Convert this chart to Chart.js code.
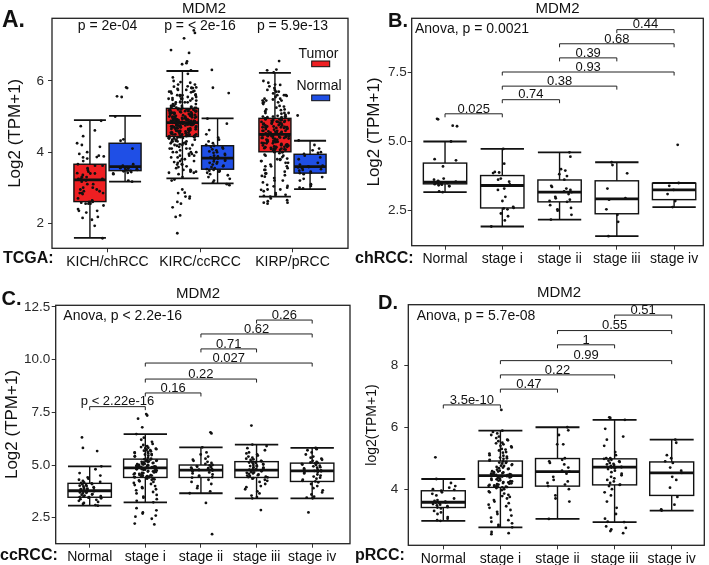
<!DOCTYPE html>
<html><head><meta charset="utf-8">
<script src="https://cdn.jsdelivr.net/npm/chart.js@4.4.1/dist/chart.umd.min.js"></script>
<style>
html,body{margin:0;padding:0;background:#fff;width:709px;height:565px;overflow:hidden;position:relative}
canvas{position:absolute;display:block}
</style></head>
<body>
<canvas id="cA" width="355" height="282" style="left:0;top:0"></canvas>
<canvas id="cB" width="354" height="282" style="left:355px;top:0"></canvas>
<canvas id="cC" width="355" height="283" style="left:0;top:282px"></canvas>
<canvas id="cD" width="354" height="283" style="left:355px;top:282px"></canvas>
<script>
// ================= DATA =================
const stageCategories = ['Normal', 'stage i', 'stage ii', 'stage iii', 'stage iv'];

// ---- Panel B: chRCC (KICH) by stage ----
const chNormal = [5.82, 5.80, 5.57, 5.55, 5.00, 4.36, 4.32, 4.10, 3.66, 3.62, 3.58, 3.55, 3.54, 3.53, 3.52, 3.50, 3.49, 3.47, 3.46, 3.44, 3.42, 3.40, 3.38, 3.20, 3.17];
const chStage1 = [4.73, 4.20, 3.90, 3.88, 3.86, 3.66, 3.62, 3.55, 3.45, 3.41, 3.30, 3.25, 3.00, 2.85, 2.64, 2.60, 2.58, 2.55, 2.40, 2.30, 2.15, 1.93];
const chStage2 = [4.61, 4.45, 4.00, 3.95, 3.82, 3.75, 3.62, 3.40, 3.36, 3.30, 3.25, 3.20, 3.17, 3.10, 3.00, 2.95, 2.90, 2.85, 2.82, 2.70, 2.60, 2.55, 2.50, 2.35, 2.18];
const chStage3 = [4.25, 4.15, 3.85, 3.30, 2.95, 2.90, 2.55, 2.35, 2.10, 1.58];
const chStage4 = [4.88, 3.50, 3.40, 3.25, 3.10, 2.85, 2.63];
// box stats: [lower whisker, Q1, median, Q3, upper whisker]
const chBoxes = [[3.17, 3.47, 3.53, 4.22, 5.00], [1.93, 2.60, 3.41, 3.77, 4.73], [2.18, 2.82, 3.17, 3.61, 4.61], [1.58, 2.39, 2.93, 3.58, 4.25], [2.63, 2.90, 3.25, 3.49, 3.50]];
const chBrackets = [[1, 2, 6.00, '0.025'], [2, 3, 6.51, '0.74'], [2, 4, 7.00, '0.38'], [2, 5, 7.51, '0.93'], [3, 4, 8.02, '0.39'], [3, 5, 8.53, '0.68'], [4, 5, 9.04, '0.44']];
const chAnova = 'Anova, p = 0.0021';
const chTicks = [2.5, 5.0, 7.5];

// ---- Panel C: ccRCC (KIRC) by stage ----
const ccNormal = [6.31, 5.81, 5.66, 4.94, 4.80, 4.62, 4.50, 4.41, 4.35, 4.30, 4.25, 4.20, 4.18, 4.15, 4.13, 4.10, 4.08, 4.05, 4.02, 4.00, 3.98, 3.95, 3.92, 3.90, 3.88, 3.85, 3.82, 3.80, 3.78, 3.76, 3.74, 3.72, 3.70, 3.68, 3.65, 3.62, 3.60, 3.58, 3.55, 3.52, 3.50, 3.48, 3.47, 3.45, 3.42, 3.38, 3.35, 3.30, 3.25, 3.20, 3.15, 3.10, 3.07];
const ccStage1 = [7.42, 7.35, 7.20, 6.79, 6.47, 6.30, 6.20, 6.10, 6.00, 5.95, 5.90, 5.85, 5.82, 5.80, 5.78, 5.75, 5.72, 5.70, 5.68, 5.65, 5.62, 5.60, 5.57, 5.55, 5.52, 5.50, 5.47, 5.45, 5.42, 5.40, 5.35, 5.30,
  5.27, 5.26, 5.24, 5.22, 5.20, 5.19, 5.17, 5.15, 5.14, 5.12, 5.10, 5.09, 5.07, 5.05, 5.04, 5.02, 5.00, 4.99, 4.97, 4.96, 4.95, 4.94, 4.93, 4.92, 4.91, 4.90, 4.90, 4.89, 4.88, 4.88, 4.87, 4.86,
  4.85, 4.84, 4.83, 4.82, 4.81, 4.80, 4.78, 4.77, 4.75, 4.74, 4.72, 4.70, 4.69, 4.67, 4.65, 4.63, 4.62, 4.60, 4.58, 4.56, 4.55, 4.53, 4.52, 4.50, 4.49, 4.47, 4.46, 4.45, 4.44, 4.43, 4.42, 4.41,
  4.38, 4.35, 4.32, 4.30, 4.27, 4.23, 4.20, 4.15, 4.10, 4.05, 4.00, 3.95, 3.90, 3.85, 3.80, 3.72, 3.65, 3.58, 3.50, 3.45, 3.38, 3.30, 3.23, 2.95, 2.85, 2.75, 2.70, 2.60, 2.55, 2.45, 2.22, 2.18];
const ccStage2 = [6.55, 6.50, 5.84, 5.60, 5.50, 5.40, 5.30, 5.25, 5.20, 5.15, 5.10, 5.05, 5.00, 4.98, 4.95, 4.92, 4.90, 4.88, 4.85, 4.82, 4.80, 4.78, 4.76, 4.74, 4.70, 4.65, 4.60, 4.55, 4.50, 4.45, 4.42, 4.40, 4.30, 4.20, 4.10, 4.00, 3.90, 3.75, 3.66, 3.20, 1.72];
const ccStage3 = [6.87, 5.97, 5.90, 5.80, 5.70, 5.60, 5.55, 5.50, 5.45, 5.40, 5.35, 5.30, 5.27, 5.24, 5.20, 5.18, 5.16, 5.14, 5.12, 5.10, 5.08, 5.05, 5.02, 5.00, 4.98, 4.95, 4.93, 4.90, 4.88, 4.85, 4.83, 4.80, 4.78, 4.76, 4.75, 4.73, 4.70, 4.68, 4.65, 4.63, 4.60, 4.58, 4.55, 4.52, 4.50, 4.48, 4.45, 4.43, 4.41, 4.38, 4.35, 4.30, 4.25, 4.20, 4.10, 4.00, 3.95, 3.85, 3.75, 3.65, 3.55, 3.48, 3.42, 2.86];
const ccStage4 = [5.81, 5.75, 5.70, 5.60, 5.50, 5.40, 5.35, 5.30, 5.25, 5.20, 5.15, 5.12, 5.10, 5.08, 5.05, 5.02, 5.00, 4.97, 4.94, 4.90, 4.87, 4.84, 4.80, 4.78, 4.75, 4.72, 4.70, 4.67, 4.64, 4.60, 4.55, 4.50, 4.45, 4.40, 4.35, 4.30, 4.25, 4.22, 4.18, 4.10, 4.00, 3.90, 3.80, 3.70, 3.60, 3.50, 3.45, 3.42, 2.75];
const ccBoxes = [[3.07, 3.47, 3.78, 4.13, 4.94], [3.23, 4.41, 4.86, 5.28, 6.47], [3.66, 4.41, 4.76, 5.00, 5.84], [3.42, 4.41, 4.76, 5.16, 5.97], [3.42, 4.22, 4.72, 5.09, 5.81]];
const ccBrackets = [[1, 2, 7.77, 'p < 2.22e-16'], [2, 3, 8.42, '0.16'], [2, 4, 9.08, '0.22'], [2, 5, 9.84, '0.027'], [3, 4, 10.51, '0.71'], [3, 5, 11.22, '0.62'], [4, 5, 11.88, '0.26']];
const ccAnova = 'Anova, p < 2.2e-16';
const ccTicks = [2.5, 5.0, 7.5, 10.0, 12.5];

// ---- Panel D: pRCC (KIRP) by stage ----
const pNormal = [5.03, 4.33, 4.20, 4.10, 4.05, 4.00, 3.98, 3.95, 3.90, 3.85, 3.80, 3.70, 3.65, 3.62, 3.60, 3.58, 3.57, 3.55, 3.52, 3.50, 3.48, 3.45, 3.42, 3.41, 3.38, 3.30, 3.25, 3.20, 3.10, 3.05, 3.00, 2.98];
const pStage1 = [6.56, 5.89, 5.85, 5.80, 5.75, 5.70, 5.65, 5.60, 5.58, 5.55, 5.50, 5.48, 5.45, 5.40, 5.38, 5.35, 5.30, 5.28, 5.25, 5.20, 5.18, 5.15, 5.10, 5.08, 5.05, 5.02, 5.00, 4.98, 4.95, 4.92,
  4.90, 4.88, 4.86, 4.85, 4.83, 4.80, 4.78, 4.76, 4.75, 4.72, 4.70, 4.68, 4.66, 4.65, 4.63, 4.60, 4.58, 4.57, 4.55, 4.54, 4.52, 4.50, 4.50, 4.49, 4.48, 4.47, 4.46, 4.45, 4.45, 4.44,
  4.43, 4.42, 4.41, 4.40, 4.38, 4.37, 4.35, 4.34, 4.32, 4.30, 4.29, 4.28, 4.26, 4.25, 4.23, 4.22, 4.20, 4.19, 4.18, 4.16, 4.15, 4.14, 4.12, 4.11, 4.10, 4.09, 4.08, 4.07, 4.07, 4.06,
  4.04, 4.00, 3.97, 3.93, 3.90, 3.86, 3.82, 3.78, 3.75, 3.70, 3.65, 3.60, 3.55, 3.50, 3.45, 3.40, 3.33, 3.27, 3.20, 3.15, 3.08, 3.00, 2.95, 2.90, 2.85, 2.80, 2.77, 2.62, 2.58, 2.55];
const pStage2 = [6.00, 5.90, 5.75, 5.45, 5.45, 5.00, 4.95, 4.90, 4.85, 4.80, 4.70, 4.60, 4.57, 4.50, 4.40, 4.30, 4.25, 4.20, 4.15, 4.10, 4.00, 3.80, 3.70, 3.60, 3.04];
const pStage3 = [6.32, 6.30, 6.24, 5.95, 5.70, 5.60, 5.40, 5.20, 5.10, 5.00, 5.00, 4.98, 4.95, 4.92, 4.90, 4.88, 4.85, 4.82, 4.80, 4.78, 4.75, 4.72, 4.71, 4.70, 4.68, 4.65, 4.60, 4.55, 4.50, 4.45, 4.40, 4.35, 4.30, 4.25, 4.20, 4.15, 4.14, 4.10, 4.00, 3.90, 3.80, 3.60, 3.40, 3.20, 3.05, 2.95, 2.94, 2.80, 2.75, 2.70, 2.65, 2.58];
const pStage4 = [5.60, 5.50, 5.10, 5.00, 4.90, 4.85, 4.70, 4.60, 4.53, 4.40, 4.30, 4.05, 3.75, 3.50, 3.35, 3.31];
const pBoxes = [[2.98, 3.41, 3.58, 3.95, 4.33], [2.77, 4.06, 4.44, 4.91, 5.89], [3.04, 4.10, 4.57, 4.99, 6.00], [2.94, 4.14, 4.71, 4.98, 6.24], [3.31, 3.80, 4.53, 4.88, 5.60]];
const pBrackets = [[1, 2, 6.72, '3.5e-10'], [2, 3, 7.23, '0.47'], [2, 4, 7.69, '0.22'], [2, 5, 8.15, '0.99'], [3, 4, 8.66, '1'], [3, 5, 9.12, '0.55'], [4, 5, 9.62, '0.51']];
const pAnova = 'Anova, p = 5.7e-08';
const pTicks = [4, 6, 8];

// ---- Panel A: TCGA tumor vs normal (tumor samples = all stages pooled) ----
const tcgaCategories = ['KICH/chRCC', 'KIRC/ccRCC', 'KIRP/pRCC'];
const tcgaTumor = [[...chStage1, ...chStage2, ...chStage3, ...chStage4], [...ccStage1, ...ccStage2, ...ccStage3, ...ccStage4], [...pStage1, ...pStage2, ...pStage3, ...pStage4]];
const tcgaNormal = [chNormal, ccNormal, pNormal];
const tcgaTumorBoxes = [[1.59, 2.61, 3.22, 3.66, 4.90], [3.26, 4.44, 4.83, 5.23, 6.28], [2.75, 4.01, 4.50, 4.95, 6.23]];
const tcgaNormalBoxes = [[3.17, 3.48, 3.59, 4.25, 5.02], [3.12, 3.52, 3.83, 4.18, 4.95], [2.96, 3.41, 3.59, 3.94, 4.32]];
const tcgaPvalues = ['p = 2e-04', 'p = < 2e-16', 'p = 5.9e-13'];
const tcgaTicks = [2, 4, 6];
const seriesNames = ['Tumor', 'Normal'];

// ================= RENDERING =================
const FONT = "'Liberation Sans', Arial, Helvetica, sans-serif";
Chart.defaults.font.family = FONT;
const RED = '#ee1f22', BLUE = '#1f4fe6', INK = '#111';

function frac(v) { return v - Math.floor(v); }
// deterministic horizontal spread (quadratic Weyl sequence) – positions only, values untouched
function jitter(values, center, half, seed) {
  return values.map((v, i) => ({ x: center + half * 2 * (frac(seed + i * 0.7548776662 + i * i * 0.2849201455) - 0.5), y: v }));
}
function drawText(ctx, s, x, y, font, align, color) {
  ctx.font = font; ctx.textAlign = align || 'left'; ctx.textBaseline = 'alphabetic';
  ctx.fillStyle = color || INK; ctx.fillText(s, x, y);
}

function buildPanel(p) {
  const datasets = p.groups.map((g, k) => ({
    label: g.name,
    data: jitter(g.values, g.x, g.half, 0.17 + k * 0.37),
    pointRadius: 1.4, pointHoverRadius: 1.4,
    pointBackgroundColor: INK, pointBorderWidth: 0, showLine: false
  }));
  const decor = {
    id: 'decor',
    beforeDatasetsDraw(chart) {
      const { ctx, scales: { x, y } } = chart;
      ctx.save();
      p.boxes.forEach(b => {
        const cx = x.getPixelForValue(b.x);
        const hw = (x.getPixelForValue(b.x + b.w / 2) - x.getPixelForValue(b.x - b.w / 2)) / 2;
        const [lo, q1, md, q3, hi] = b.s.map(v => y.getPixelForValue(v));
        ctx.strokeStyle = INK; ctx.lineCap = 'butt';
        ctx.lineWidth = 1.4;
        ctx.beginPath(); ctx.moveTo(cx, lo); ctx.lineTo(cx, hi); ctx.stroke();
        ctx.lineWidth = 1.8;
        ctx.beginPath(); ctx.moveTo(cx - hw, lo); ctx.lineTo(cx + hw, lo);
        ctx.moveTo(cx - hw, hi); ctx.lineTo(cx + hw, hi); ctx.stroke();
        ctx.fillStyle = b.fill;
        ctx.fillRect(cx - hw, q3, 2 * hw, q1 - q3);
        ctx.lineWidth = 1.4;
        ctx.strokeRect(cx - hw, q3, 2 * hw, q1 - q3);
        ctx.lineWidth = 2.8;
        ctx.beginPath(); ctx.moveTo(cx - hw, md); ctx.lineTo(cx + hw, md); ctx.stroke();
      });
      ctx.restore();
    },
    afterDraw(chart) {
      const { ctx, chartArea: a, scales: { x, y } } = chart;
      ctx.save();
      (p.brackets || []).forEach(([i, j, v, label]) => {
        const x1 = x.getPixelForValue(i), x2 = x.getPixelForValue(j), yy = y.getPixelForValue(v);
        ctx.strokeStyle = '#222'; ctx.lineWidth = 1;
        ctx.beginPath(); ctx.moveTo(x1, yy + 3.5); ctx.lineTo(x1, yy); ctx.lineTo(x2, yy); ctx.lineTo(x2, yy + 3.5); ctx.stroke();
        drawText(ctx, label, (x1 + x2) / 2, yy - 1.2, '13px ' + FONT, 'center');
      });
      (p.groupLabels || []).forEach((s, i) => {
        drawText(ctx, s, x.getPixelForValue(i + 1), p.groupLabelY, '14px ' + FONT, 'center');
      });
      if (p.legend) {
        p.legend.forEach(l => {
          drawText(ctx, l.text, l.cx, l.y, '14px ' + FONT, 'center');
          ctx.fillStyle = l.color; ctx.fillRect(l.rx, l.ry, 18, 5.7);
          ctx.strokeStyle = INK; ctx.lineWidth = 1; ctx.strokeRect(l.rx, l.ry, 18, 5.7);
        });
      }
      ctx.strokeStyle = '#222'; ctx.lineWidth = 1.3;
      ctx.strokeRect(a.left, a.top, a.right - a.left, a.bottom - a.top);
      p.texts.forEach(t => drawText(ctx, t[0], t[1], t[2], t[3], t[4]));
      ctx.restore();
    }
  };
  new Chart(document.getElementById(p.id), {
    type: 'scatter',
    data: { datasets },
    options: {
      responsive: false, animation: false, devicePixelRatio: 1, events: [],
      layout: { padding: { left: 0, top: p.area.t, right: p.W - p.area.r, bottom: 0 } },
      plugins: { legend: { display: false }, tooltip: { enabled: false }, title: { display: false } },
      scales: {
        x: {
          type: 'linear', min: p.xMin, max: p.xMax,
          afterBuildTicks: s => { s.ticks = p.cats.map((c, i) => ({ value: i + 1 })); },
          afterFit: s => { s.height = p.H - p.area.b; },
          ticks: { callback: v => p.cats[Math.round(v) - 1], autoSkip: false, maxRotation: 0, minRotation: 0, padding: 1, color: INK, font: { size: 14 } },
          grid: { display: true, drawOnChartArea: false, drawTicks: true, tickLength: 4, color: '#333', lineWidth: 1 },
          border: { display: false }
        },
        y: {
          type: 'linear', min: p.yMin, max: p.yMax,
          afterBuildTicks: s => { s.ticks = p.yTicks.map(v => ({ value: v })); },
          afterFit: s => { s.width = p.area.l; },
          ticks: { callback: v => p.yFmt(v), padding: p.yTickPad, color: '#2a2a2a', font: { size: 13.5 } },
          grid: { display: true, drawOnChartArea: false, drawTicks: true, tickLength: 4, color: '#333', lineWidth: 1 },
          border: { display: false },
          title: { display: true, text: p.yTitle, color: INK, font: { size: p.yTitleSize }, padding: { top: p.yTitlePad, bottom: 0 } }
        }
      }
    },
    plugins: [decor]
  });
}

function stagePanel(id, W, H, area, xMin, xMax, yMin, yMax, yTicks, yFmt, yTitle, yTitleSize, yTitlePad, yTickPad, boxW, vals, boxes, brackets, texts) {
  buildPanel({
    id, W, H, area, xMin, xMax, yMin, yMax, yTicks, yFmt, yTitle, yTitleSize, yTitlePad, yTickPad,
    cats: stageCategories,
    groups: vals.map((v, i) => ({ name: stageCategories[i], values: v, x: i + 1, half: 0.21 })),
    boxes: boxes.map((s, i) => ({ x: i + 1, w: boxW, s, fill: '#fff' })),
    brackets, texts
  });
}

// Panel A
buildPanel({
  id: 'cA', W: 355, H: 282, area: { l: 52, t: 18.3, r: 348, b: 248.3 },
  xMin: 0.4, xMax: 3.6, yMin: 1.297, yMax: 7.762, yTicks: tcgaTicks, yFmt: v => String(v),
  yTitle: 'Log2 (TPM+1)', yTitleSize: 17, yTitlePad: 5, yTickPad: 4,
  cats: tcgaCategories,
  groups: tcgaCategories.flatMap((c, i) => [
    { name: c + ' ' + seriesNames[0], values: tcgaTumor[i], x: i + 1 - 0.19, half: 0.15 },
    { name: c + ' ' + seriesNames[1], values: tcgaNormal[i], x: i + 1 + 0.19, half: 0.14 }]),
  boxes: tcgaCategories.flatMap((c, i) => [
    { x: i + 1 - 0.19, w: 0.346, s: tcgaTumorBoxes[i], fill: RED },
    { x: i + 1 + 0.19, w: 0.346, s: tcgaNormalBoxes[i], fill: BLUE }]),
  groupLabels: tcgaPvalues, groupLabelY: 29.5,
  legend: [
    { text: seriesNames[0], cx: 318.5, y: 58, color: RED, rx: 311.7, ry: 61 },
    { text: seriesNames[1], cx: 319, y: 90, color: BLUE, rx: 311.7, ry: 95 }],
  texts: [['A.', 2, 27, 'bold 23px ' + FONT], ['MDM2', 204, 13, '15px ' + FONT, 'center'], ['TCGA:', 3, 263, 'bold 16px ' + FONT]]
});

// Panel B
stagePanel('cB', 354, 282, { l: 56.7, t: 18.3, r: 348.3, b: 245.7 }, 0.418, 5.51, 1.236, 9.45, chTicks, v => v.toFixed(1),
  'Log2 (TPM+1)', 17, 9, 1, 0.757, [chNormal, chStage1, chStage2, chStage3, chStage4], chBoxes, chBrackets,
  [['B.', 33, 27, 'bold 20px ' + FONT], ['MDM2', 202.5, 12.7, '15px ' + FONT, 'center'], [chAnova, 60, 33.3, '14px ' + FONT], ['chRCC:', 0, 263, 'bold 16px ' + FONT]]);

// Panel C
stagePanel('cC', 355, 283, { l: 55.7, t: 23.3, r: 350, b: 261.7 }, 0.389, 5.68, 1.266, 12.58, ccTicks, v => v.toFixed(1),
  'Log2 (TPM+1)', 17, 2, 1.5, 0.78, [ccNormal, ccStage1, ccStage2, ccStage3, ccStage4], ccBoxes, ccBrackets,
  [['C.', 1.5, 23, 'bold 20px ' + FONT], ['MDM2', 198, 16, '15px ' + FONT, 'center'], [ccAnova, 63.3, 38.3, '14px ' + FONT], ['ccRCC:', 0, 278, 'bold 16px ' + FONT]]);

// Panel D
stagePanel('cD', 354, 283, { l: 53.3, t: 22.7, r: 349.3, b: 263.3 }, 0.387, 5.571, 2.19, 9.955, pTicks, v => String(v),
  'log2(TPM+1)', 14, 8.6, 6, 0.77, [pNormal, pStage1, pStage2, pStage3, pStage4], pBoxes, pBrackets,
  [['D.', 23, 27, 'bold 20px ' + FONT], ['MDM2', 204, 15, '15px ' + FONT, 'center'], [pAnova, 61.7, 38.3, '14px ' + FONT], ['pRCC:', 0, 278, 'bold 16px ' + FONT]]);
</script>
</body></html>
